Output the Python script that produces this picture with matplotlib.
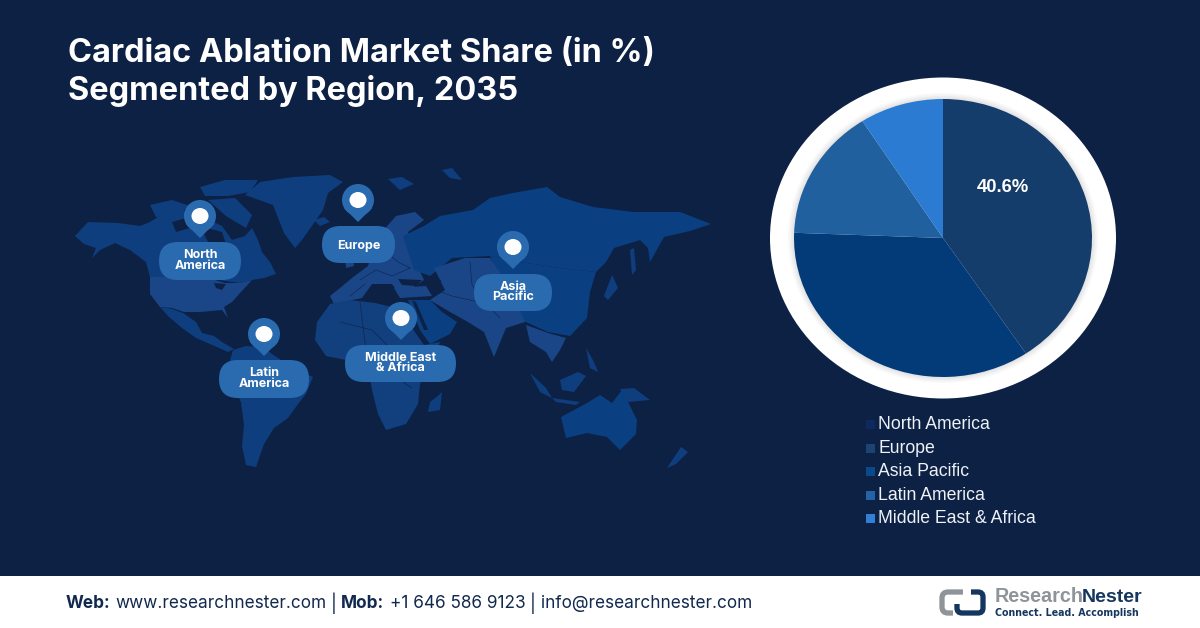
import matplotlib
matplotlib.use("Agg")
import matplotlib.pyplot as plt
from matplotlib.patches import Ellipse, FancyBboxPatch, Polygon, Circle, Rectangle, PathPatch
from matplotlib.path import Path

# Chart data
slice_labels = ["North America", "Asia Pacific", "Latin America", "Middle East & Africa"]
slice_values = [40.6, 35.0, 15.3, 9.1]
slice_colors = ["#143d6b", "#033a78", "#20609f", "#2b7bd2"]
legend_labels = ["North America", "Europe", "Asia Pacific", "Latin America", "Middle East & Africa"]
legend_colors = ["#0c2a5e", "#1b4470", "#0a4a8c", "#2563a8", "#2f80d6"]

BG = "#0d2145"
MAP_DARK = "#0a4082"
MAP_MID = "#0f3e7e"
MAP_LIGHT = "#1a4688"
MAP_AFR = "#123f7e"
PILL = "#2a6bb0"
W, H = 1200, 628

fig = plt.figure(figsize=(W / 100, H / 100), dpi=100, facecolor=BG)
ax = fig.add_axes([0, 0, 1, 1])
ax.set_xlim(0, W)
ax.set_ylim(H, 0)
ax.axis("off")

# World map, rough outlines in pixel space
map_shapes = [
    # Canada and Alaska
    (MAP_MID, [(75, 236), (88, 222), (118, 223), (140, 226), (150, 222), (172, 208), (190, 212), (205, 218),
               (222, 226), (232, 240), (245, 236), (252, 228), (258, 240), (262, 252), (270, 262), (273, 268),
               (276, 274), (264, 278), (252, 280), (240, 283), (225, 281), (205, 277), (150, 277), (146, 262),
               (130, 250), (115, 243), (100, 250), (92, 258), (96, 248), (84, 244)]),
    # USA
    (MAP_LIGHT, [(150, 277), (205, 277), (225, 283), (240, 283), (252, 280), (240, 293), (232, 302), (224, 307),
                 (228, 318), (222, 310), (200, 312), (184, 312), (172, 308), (160, 307), (150, 294)]),
    # Mexico and Central America
    (MAP_MID, [(160, 307), (172, 309), (183, 313), (196, 322), (202, 333), (214, 336), (222, 342), (234, 349),
               (228, 352), (210, 344), (196, 338), (182, 328), (168, 316)]),
    # South America
    (MAP_MID, [(233, 350), (246, 346), (262, 347), (278, 358), (296, 370), (313, 377), (306, 394), (298, 404),
               (288, 418), (274, 428), (264, 444), (256, 467), (246, 465), (242, 446), (244, 425), (241, 402),
               (230, 380), (229, 364)]),
    # Greenland
    (MAP_MID, [(245, 195), (260, 182), (293, 177), (330, 175), (343, 182), (328, 193), (323, 210), (302, 240),
               (295, 248), (284, 233), (273, 205)]),
    # Arctic islands
    (MAP_MID, [(200, 187), (225, 180), (258, 180), (250, 192), (228, 196), (205, 196)]),
    (MAP_MID, [(150, 205), (172, 200), (190, 206), (176, 216), (156, 217)]),
    (MAP_MID, [(208, 200), (235, 198), (252, 215), (246, 228), (226, 216)]),
    # Iceland, UK, Svalbard
    (MAP_MID, [(314, 220), (324, 217), (330, 222), (320, 226)]),
    (MAP_MID, [(388, 179), (402, 177), (414, 184), (400, 190)]),
    (MAP_MID, [(442, 170), (452, 168), (462, 180), (450, 178)]),
    (MAP_LIGHT, [(345, 255), (352, 250), (354, 266), (346, 268)]),
    # Europe
    (MAP_LIGHT, [(330, 296), (340, 288), (352, 278), (368, 266), (372, 250), (382, 232), (396, 216), (415, 212),
                 (424, 220), (408, 232), (416, 262), (424, 280), (412, 288), (402, 298), (392, 284), (372, 284),
                 (362, 298), (334, 304)]),
    # Russia and north Asia
    (MAP_DARK, [(403, 236), (424, 226), (440, 216), (473, 210), (490, 198), (513, 193), (547, 187), (560, 197),
                (593, 207), (633, 212), (680, 212), (711, 224), (690, 231), (664, 237), (650, 262), (648, 248),
                (640, 240), (614, 248), (606, 262), (596, 272), (560, 268), (520, 262), (490, 256), (452, 258),
                (430, 276), (414, 270)]),
    # China and east Asia
    (MAP_DARK, [(490, 256), (520, 262), (560, 268), (596, 272), (590, 292), (587, 318), (570, 336), (548, 332),
                (526, 322), (500, 318), (500, 280)]),
    # Central and south Asia
    (MAP_LIGHT, [(434, 268), (465, 258), (490, 258), (505, 280), (515, 300), (525, 322), (506, 328), (494, 357),
                 (484, 332), (468, 322), (450, 312), (430, 300), (445, 290)]),
    # South east Asia
    (MAP_LIGHT, [(526, 325), (548, 333), (566, 338), (560, 350), (552, 362), (546, 352), (530, 342)]),
    # Turkey
    (MAP_LIGHT, [(394, 288), (426, 286), (432, 296), (400, 298)]),
    # Arabia
    (MAP_DARK, [(408, 300), (430, 300), (442, 312), (457, 322), (450, 334), (430, 344), (420, 330)]),
    # Africa
    (MAP_AFR, [(317, 322), (330, 304), (350, 300), (375, 303), (396, 308), (410, 325), (424, 345), (440, 342),
               (430, 364), (420, 384), (418, 404), (406, 424), (386, 430), (378, 414), (372, 390), (368, 366),
               (346, 360), (326, 356), (315, 340)]),
    # Madagascar
    (MAP_MID, [(438, 396), (442, 392), (440, 410), (428, 412), (430, 402)]),
    # Japan and Sakhalin
    (MAP_MID, [(630, 250), (634, 248), (636, 270), (632, 275)]),
    (MAP_MID, [(612, 275), (618, 288), (608, 300), (604, 296)]),
    # Indonesia, Philippines, Borneo, New Guinea
    (MAP_MID, [(530, 373), (546, 388), (552, 398), (540, 392)]),
    (MAP_MID, [(560, 380), (578, 372), (586, 376), (574, 392), (562, 390)]),
    (MAP_MID, [(586, 348), (594, 362), (598, 372), (590, 368)]),
    (MAP_MID, [(620, 389), (634, 388), (650, 400), (628, 402)]),
    (MAP_MID, [(552, 398), (580, 402), (576, 405), (556, 402)]),
    # Australia
    (MAP_DARK, [(561, 417), (587, 403), (600, 395), (612, 403), (622, 390), (637, 420), (636, 434), (620, 450),
                (607, 437), (587, 433), (566, 438)]),
    # New Zealand
    (MAP_MID, [(681, 447), (688, 452), (676, 464), (667, 468)]),
    # Inland water and gaps
    (BG, [(214, 283), (226, 284), (222, 290), (216, 288)]),
    (BG, [(434, 278), (441, 280), (440, 294), (435, 292)]),
    (BG, [(398, 279), (422, 280), (416, 286), (402, 285)]),
    (BG, [(380, 236), (392, 232), (388, 256), (380, 252)]),
    (BG, [(172, 222), (186, 218), (190, 228), (176, 232)]),
    (BG, [(200, 226), (222, 232), (228, 250), (210, 246)]),
    (BG, [(412, 300), (416, 302), (428, 330), (424, 330)]),
]
for color, pts in map_shapes:
    ax.add_patch(Polygon(pts, closed=True, facecolor=color, edgecolor="none", zorder=1))

# Faint country borders
border_lines = [
    [(436, 290), (452, 296), (470, 300), (486, 304)],
    [(470, 262), (472, 285), (486, 304), (500, 318)],
    [(360, 280), (376, 270), (392, 276), (410, 268)],
    [(350, 296), (365, 284)],
    [(384, 250), (398, 262), (410, 268)],
    [(340, 322), (372, 330), (392, 350)],
    [(360, 302), (366, 350)],
    [(385, 362), (400, 380), (412, 388)],
]
for line in border_lines:
    ax.plot([p[0] for p in line], [p[1] for p in line], color=BG, lw=0.5, alpha=0.8, zorder=1.5)

# Pins and labels on the map
pins = [
    ("North\nAmerica", 200, 216, 159, 241, 242, 280),
    ("Europe", 358, 200, 322, 395, 226, 263),
    ("Asia\nPacific", 513, 247, 474, 552, 274, 311),
    ("Latin\nAmerica", 264, 334, 219, 309, 360, 398),
    ("Middle East\n& Africa", 401, 318, 345, 456, 345, 382),
]
for label, px, py, x0, x1, y0, y1 in pins:
    ax.add_patch(Circle((px, py), 16, facecolor=PILL, edgecolor="none", zorder=3))
    ax.add_patch(Polygon([(px - 14, py + 8), (px + 14, py + 8), (px, py + 22)], facecolor=PILL,
                         edgecolor="none", zorder=3))
    ax.add_patch(Ellipse((px, py), 17, 16, facecolor="white", edgecolor="none", zorder=4))
    rad = (y1 - y0) / 2
    ax.add_patch(FancyBboxPatch((x0 + rad, y0 + rad), x1 - x0 - 2 * rad, 0.01,
                                boxstyle=f"round,pad={rad},rounding_size={rad}",
                                facecolor=PILL, edgecolor="none", zorder=3))
    label_y = (y0 + y1) / 2 + (1 if "\n" not in label else -0.5)
    ax.text((x0 + x1) / 2, label_y, label, ha="center", va="center", color="white", fontsize=9,
            fontweight="bold", family="Inter", linespacing=0.85, zorder=5)

# Title
ax.text(68, 54, "Cardiac Ablation Market Share (in %)", color="white", fontsize=23.4, fontweight="bold",
        family="Inter", va="center", ha="left")
ax.text(68, 91, "Segmented by Region, 2035", color="white", fontsize=23.4, fontweight="bold",
        family="Inter", va="center", ha="left")

# White ring around the pie with a soft inner shadow
cx, cy = 943, 238
ax.add_patch(Ellipse((cx, cy), 346, 321, facecolor="white", edgecolor="none", zorder=2))
for i, shade in enumerate(["#f9f9f9", "#f3f3f3", "#ececec", "#e4e4e4"]):
    ax.add_patch(Ellipse((cx, cy), 310 - i * 3, 290 - i * 3, facecolor=shade, edgecolor="none", zorder=2))

# Pie stretched a little wider than tall like the reference
pie_ax = fig.add_axes([(cx - 149) / W, 1 - (cy + 139) / H, 298 / W, 278 / H])
pie_ax.pie(slice_values, colors=slice_colors, startangle=90, counterclock=False, radius=1,
           wedgeprops={"linewidth": 0})
pie_ax.set_aspect("auto")
pie_ax.set_xlim(-1, 1)
pie_ax.set_ylim(-1, 1)
pie_ax.text(0.40, 0.365, f"{slice_values[0]}%", color="white", fontsize=13.3, fontweight="bold",
            family="Liberation Sans", ha="center", va="center")

# Legend
legend_y = [424, 448, 471, 495, 518]
for label, color, y in zip(legend_labels, legend_colors, legend_y):
    ax.add_patch(Rectangle((866, y - 4), 9, 9, facecolor=color, edgecolor="none", zorder=2))
    ax.text(878, y + 0.5, label, color="#eef2f7", fontsize=12.7, family="Liberation Sans", va="center", ha="left")

# Footer
ax.add_patch(Rectangle((0, 576), W, 52, facecolor="white", edgecolor="none", zorder=2))
FOOT = "#12294f"
foot_y = 603
foot_parts = [
    (66, "Web:", True), (115, "www.researchnester.com", False), (331, "|", False),
    (341, "Mob:", True), (390, "+1 646 586 9123", False), (530, "|", False),
    (541, "info@researchnester.com", False),
]
for x, text, is_bold in foot_parts:
    ax.text(x, foot_y, text, color=FOOT, fontsize=12.4, family="Inter", va="center", ha="left",
            fontweight="bold" if is_bold else "normal", zorder=3)


def logo_stroke(pts, color):
    # pts alternate straight run ends and corner control points
    codes = [Path.MOVETO]
    for i in range(1, len(pts)):
        codes.append(Path.CURVE3 if pts[i][2] else Path.LINETO)
    path = Path([(p[0], p[1]) for p in pts], codes)
    ax.add_patch(PathPatch(path, facecolor="none", edgecolor=color, lw=3.8, capstyle="butt", zorder=3))


# Logo
logo_stroke([(963, 592, 0), (948, 592, 0), (942, 592, 1), (942, 598, 1), (942, 607, 0), (942, 613, 1),
             (948, 613, 1), (953, 613, 0)], "#8f9499")
logo_stroke([(957, 604, 0), (957, 608, 0), (957, 613, 1), (962, 613, 1), (978, 613, 0), (983, 613, 1),
             (983, 608, 1), (983, 597, 0), (983, 592, 1), (978, 592, 1), (971, 592, 0)], "#14365f")
ax.text(995, 597, "Research", color="#8f9499", fontsize=14.2, fontweight="bold", family="Liberation Sans",
        va="center", zorder=3)
ax.text(1082, 597, "Nester", color="#14365f", fontsize=14, fontweight="bold", family="Liberation Sans",
        va="center", zorder=3)
ax.text(995, 613, "Connect. Lead. Accomplish", color="#14365f", fontsize=6.85, fontweight="bold",
        family="DejaVu Sans", va="center", zorder=3)

fig.savefig("out.png", dpi=100, facecolor=BG)
